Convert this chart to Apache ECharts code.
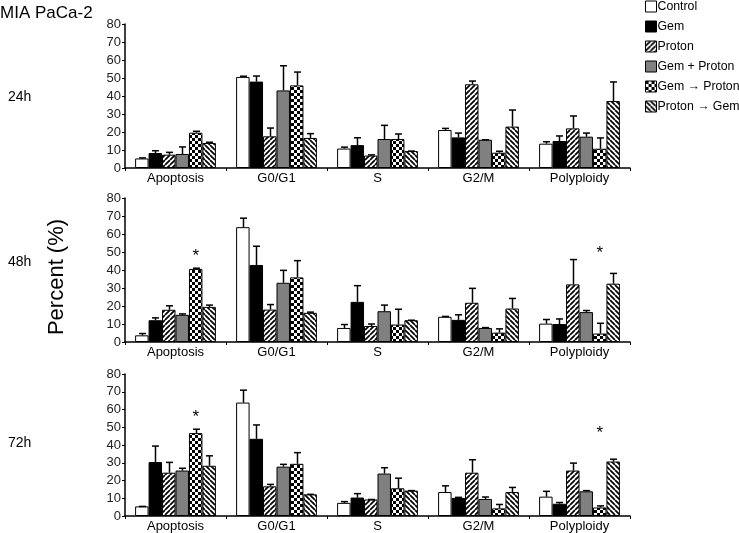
<!DOCTYPE html>
<html><head><meta charset="utf-8">
<script src="https://cdn.jsdelivr.net/npm/echarts@6/dist/echarts.min.js"></script>
<style>html,body{margin:0;padding:0;background:#fff}#c{width:739px;height:533px}</style>
</head><body><div id="c"></div>
<script>
const categories = ['Apoptosis', 'G0/G1', 'S', 'G2/M', 'Polyploidy'];
const seriesNames = ['Control', 'Gem', 'Proton', 'Gem + Proton', 'Gem \u2192 Proton', 'Proton \u2192 Gem'];
const timeLabels = ['24h', '48h', '72h'];

// rows: Control, Gem, Proton, Gem+Proton, Gem->Proton, Proton->Gem ; columns: categories
const mean24 = [
  [5.3, 50.6, 10.8, 21.1, 13.5],
  [8.3, 48.0, 12.7, 17.0, 15.0],
  [7.4, 17.6, 6.9, 46.5, 22.0],
  [7.8, 43.1, 16.1, 15.7, 17.4],
  [19.6, 45.9, 16.1, 8.5, 10.7],
  [13.9, 16.7, 9.4, 23.0, 37.2]
];
const err24 = [
  [0.3, 0.4, 0.8, 0.9, 1.1],
  [1.3, 3.1, 4.1, 2.4, 2.8],
  [1.3, 4.6, 0.4, 1.8, 6.9],
  [3.9, 13.7, 7.6, 0, 2.0],
  [0.8, 7.4, 2.8, 0.8, 6.0],
  [0.4, 2.4, 0, 9.2, 10.6]
];
const mean48 = [
  [3.7, 63.8, 7.8, 14.0, 10.2],
  [12.1, 42.8, 22.3, 12.3, 10.0],
  [17.9, 18.0, 8.9, 21.8, 32.0],
  [15.1, 32.9, 17.1, 7.8, 16.6],
  [40.6, 35.9, 9.7, 5.2, 4.7],
  [19.5, 16.2, 12.1, 18.6, 32.4]
];
const err48 = [
  [1.0, 5.0, 1.9, 0.2, 2.3],
  [1.3, 10.4, 9.0, 2.8, 2.8],
  [2.2, 2.8, 1.1, 8.0, 13.8],
  [0.5, 6.9, 3.4, 0.2, 0.9],
  [0.4, 9.3, 8.5, 2.1, 5.7],
  [1.0, 0.4, 0, 5.6, 5.7]
];
const mean72 = [
  [5.4, 63.9, 7.4, 13.5, 10.9],
  [30.4, 43.5, 10.4, 10.2, 6.9],
  [24.4, 16.7, 9.3, 24.4, 25.6],
  [25.6, 27.8, 23.9, 9.6, 13.9],
  [46.7, 29.4, 15.6, 4.3, 4.8],
  [28.3, 12.2, 14.3, 13.5, 30.7]
];
const err72 = [
  [0, 7.0, 0.7, 3.5, 3.0],
  [9.0, 7.8, 2.2, 0.3, 0.7],
  [5.8, 1.1, 0, 7.3, 4.2],
  [1.3, 1.3, 3.3, 1.1, 0.4],
  [2.2, 6.3, 5.7, 2.2, 0.9],
  [5.6, 0, 0, 2.6, 1.3]
];
// asterisks: [categoryIndex, seriesIndex, value position]
const stars24 = [];
const stars48 = [[0, 4, 49.5], [4, 4, 51.0]];
const stars72 = [[0, 4, 57.4], [4, 4, 48.2]];
const yMin = 0, yMax = 80, yInterval = 10;

const means = [mean24, mean48, mean72];
const errs = [err24, err48, err72];
const stars = [stars24, stars48, stars72];

function hatch(dir) {
  const s = 5, c = document.createElement('canvas');
  c.width = s; c.height = s;
  const g = c.getContext('2d');
  g.fillStyle = '#fff'; g.fillRect(0, 0, s, s);
  g.strokeStyle = '#000'; g.lineWidth = 1.7;
  g.beginPath();
  for (let k = -1; k <= 1; k++) {
    if (dir > 0) { g.moveTo(k * s, s); g.lineTo(k * s + s, 0); }
    else { g.moveTo(k * s, 0); g.lineTo(k * s + s, s); }
  }
  g.stroke();
  return c;
}
function checker() {
  const s = 6, h = 3, c = document.createElement('canvas');
  c.width = s; c.height = s;
  const g = c.getContext('2d');
  g.fillStyle = '#fff'; g.fillRect(0, 0, s, s);
  g.fillStyle = '#000'; g.fillRect(0, 0, h, h); g.fillRect(h, h, h, h);
  return c;
}
const fills = [
  '#ffffff',
  '#000000',
  { image: hatch(1), repeat: 'repeat' },
  '#808080',
  { image: checker(), repeat: 'repeat' },
  { image: hatch(-1), repeat: 'repeat' }
];

const gridTops = [24, 198, 374];
const grids = [], xAxes = [], yAxes = [], series = [];
const FONT = 'Liberation Sans, Arial, sans-serif';

function groupX(api, c, s, v) {
  const p = api.coord([c, v]);
  const bw = api.size([1, 0])[0];
  const w = bw * 0.8 / 6;
  return [p[0] - bw * 0.4 + (s + 0.5) * w, p[1]];
}

for (let g = 0; g < 3; g++) {
  grids.push({ left: 125, top: gridTops[g], width: 505, height: 144 });
  xAxes.push({
    type: 'category', gridIndex: g, data: categories,
    axisLine: { lineStyle: { color: '#000', width: 1.5 } },
    axisTick: { show: true, length: 3, alignWithLabel: false, lineStyle: { color: '#000' } },
    axisLabel: { fontSize: 13, color: '#000', margin: 4, fontFamily: FONT }
  });
  yAxes.push({
    type: 'value', gridIndex: g, min: yMin, max: yMax, interval: yInterval,
    axisLine: { show: true, lineStyle: { color: '#000', width: 1.5 } },
    axisTick: { show: true, length: 3, lineStyle: { color: '#000' } },
    splitLine: { show: false },
    axisLabel: { fontSize: 13, color: '#222', margin: 4, fontFamily: FONT }
  });
  for (let s = 0; s < 6; s++) {
    series.push({
      type: 'bar', name: seriesNames[s], xAxisIndex: g, yAxisIndex: g,
      data: means[g][s], barGap: '0%', barCategoryGap: '20%',
      itemStyle: { color: fills[s], borderColor: '#000', borderWidth: 1 },
      emphasis: { disabled: true }, animation: false
    });
  }
  const errData = [];
  for (let s = 0; s < 6; s++) for (let c = 0; c < 5; c++) errData.push([c, means[g][s][c], errs[g][s][c], s]);
  series.push({
    type: 'custom', xAxisIndex: g, yAxisIndex: g, data: errData, z: 5, animation: false,
    encode: { x: 0, y: 1 },
    renderItem: function (params, api) {
      const c = api.value(0), m = api.value(1), e = api.value(2), s = api.value(3);
      const b = groupX(api, c, s, m), t = groupX(api, c, s, m + e);
      const x = Math.round(b[0]) + 0.5;
      return {
        type: 'group', children: [
          { type: 'line', shape: { x1: x, y1: b[1], x2: x, y2: t[1] }, style: { stroke: '#000', lineWidth: 1.5 } },
          { type: 'line', shape: { x1: x - 3.5, y1: t[1], x2: x + 3.5, y2: t[1] }, style: { stroke: '#000', lineWidth: 1.5 } }
        ]
      };
    }
  });
  if (stars[g].length) {
    series.push({
      type: 'custom', xAxisIndex: g, yAxisIndex: g, data: stars[g], z: 6, animation: false,
      encode: { x: 0, y: 2 },
      renderItem: function (params, api) {
        const p = groupX(api, api.value(0), api.value(1), api.value(2));
        return { type: 'text', x: p[0], y: p[1] + 3, style: { text: '*', font: '17px ' + FONT, fill: '#000', align: 'center', verticalAlign: 'middle' } };
      }
    });
  }
}

const graphics = [
  { type: 'text', left: 0, top: 5, style: { text: 'MIA PaCa-2', font: '17px ' + FONT, fill: '#000' } },
  { type: 'text', x: 57, y: 277, rotation: Math.PI / 2, style: { text: 'Percent (%)', font: '22px ' + FONT, fill: '#000', align: 'center', verticalAlign: 'middle', textAlign: 'center', textVerticalAlign: 'middle' } }
];
const labelY = [97, 262, 443];
for (let g = 0; g < 3; g++) {
  graphics.push({ type: 'text', x: 8, y: labelY[g], style: { text: timeLabels[g], font: '14px ' + FONT, fill: '#000', align: 'left', verticalAlign: 'middle', textVerticalAlign: 'middle' } });
}

const chart = echarts.init(document.getElementById('c'), null, { renderer: 'canvas' });
chart.setOption({
  animation: false,
  backgroundColor: '#fff',
  grid: grids, xAxis: xAxes, yAxis: yAxes, series: series,
  graphic: graphics,
  legend: {
    data: seriesNames, orient: 'vertical', left: 645, top: 0, padding: 0,
    itemWidth: 11, itemHeight: 11, itemGap: 7, icon: 'rect',
    itemStyle: { borderColor: '#000', borderWidth: 1 },
    textStyle: { fontSize: 12.3, color: '#000', fontFamily: FONT, lineHeight: 13, padding: [0, 0, 0, -4], overflow: 'none' },
    selectedMode: false
  }
});
</script></body></html>
